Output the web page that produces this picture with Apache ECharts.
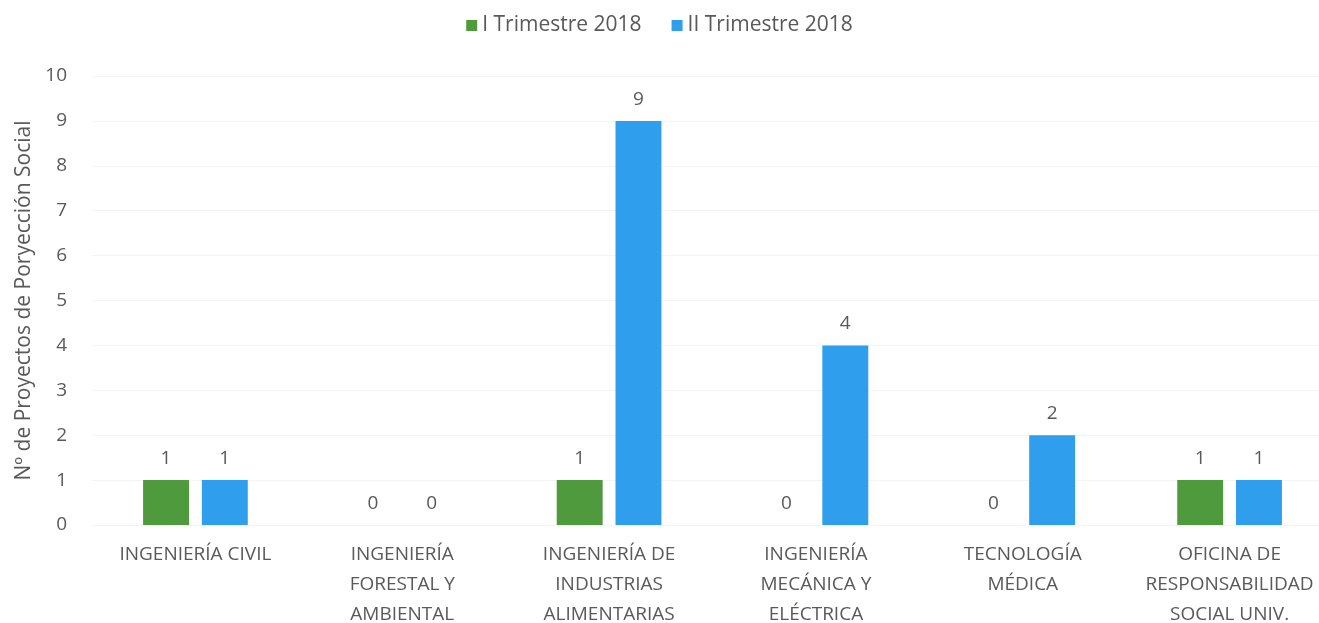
<!DOCTYPE html>
<html><head><meta charset="utf-8">
<script src="https://cdn.jsdelivr.net/npm/echarts@6/dist/echarts.min.js"></script>
<style>html,body{margin:0;padding:0;background:#fff}#c{width:1319px;height:623px}</style>
</head><body><div id="c"></div>
<script>
const categories = ["INGENIERÍA CIVIL", "INGENIERÍA\nFORESTAL Y\nAMBIENTAL", "INGENIERÍA DE\nINDUSTRIAS\nALIMENTARIAS", "INGENIERÍA\nMECÁNICA Y\nELÉCTRICA", "TECNOLOGÍA\nMÉDICA", "OFICINA DE\nRESPONSABILIDAD\nSOCIAL UNIV."];
const seriesNames = ["I Trimestre 2018", "II Trimestre 2018"];
const trim1 = [1, 0, 1, 0, 0, 1];
const trim2 = [1, 0, 9, 4, 2, 1];
const yTicks = [0, 10, 1];
const font = "Open Sans";
const txt = "#595959";
const chart = echarts.init(document.getElementById('c'));
chart.setOption({
  animation: false,
  textStyle: {fontFamily: font},
  legend: {
    top: 10, left: 'center', itemWidth: 11, itemHeight: 11, itemGap: 30,
    icon: 'rect',
    textStyle: {fontSize: 21, color: txt, fontFamily: font},
    data: seriesNames
  },
  grid: {left: 92, right: -14, top: 76, bottom: 98, outerBoundsMode: 'none', containLabel: false},
  xAxis: {
    type: 'category', data: categories,
    axisLine: {show: false}, axisTick: {show: false},
    axisLabel: {color: txt, fontSize: 19, lineHeight: 30, margin: 15, interval: 0, fontFamily: font}
  },
  yAxis: {
    type: 'value', min: yTicks[0], max: yTicks[1], interval: yTicks[2],
    name: 'Nº de Proyectos de Poryección Social', nameLocation: 'middle', nameGap: 52,
    nameTextStyle: {fontSize: 21, color: txt, fontFamily: font},
    axisLabel: {color: txt, fontSize: 19, margin: 25, fontFamily: font},
    splitLine: {lineStyle: {color: '#f4f4f4'}}
  },
  series: [
    {name: seriesNames[0], type: 'bar', data: trim1, barWidth: '22.2%', barGap: '28%',
     itemStyle: {color: '#4f9a3c'},
     label: {show: true, position: 'top', distance: 12, color: txt, fontSize: 19, fontFamily: font}},
    {name: seriesNames[1], type: 'bar', data: trim2, barWidth: '22.2%',
     itemStyle: {color: '#2f9eec'},
     label: {show: true, position: 'top', distance: 12, color: txt, fontSize: 19, fontFamily: font}}
  ]
});
</script></body></html>
